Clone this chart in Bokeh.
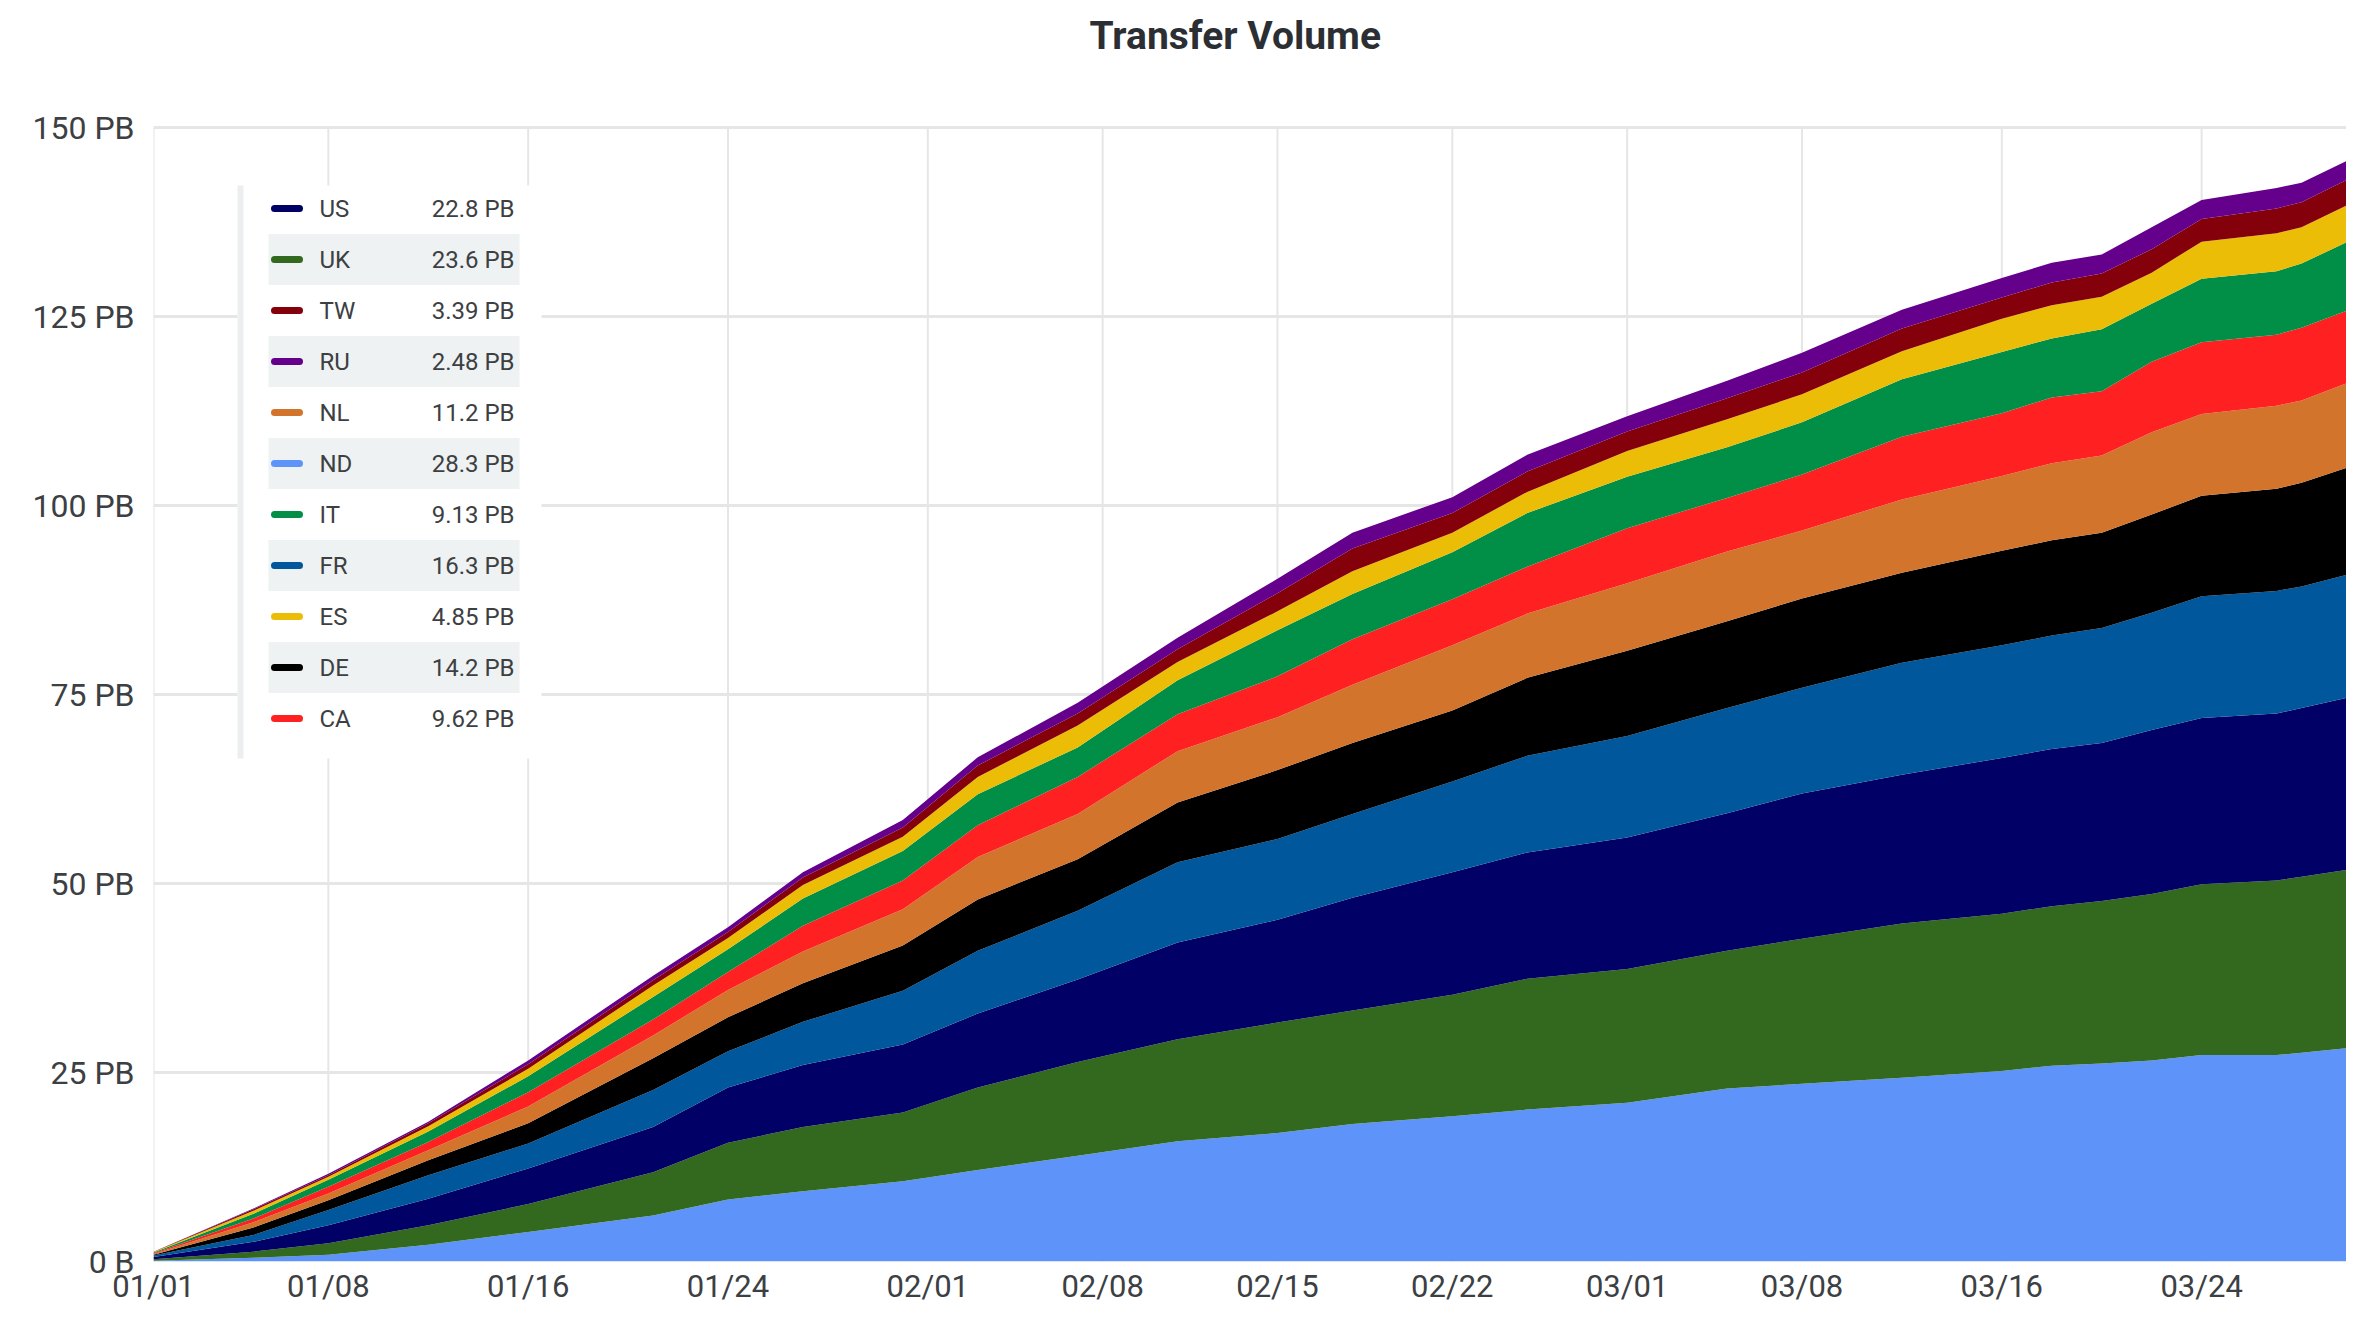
import datetime as dt
from bokeh.plotting import figure
from bokeh.models import ColumnDataSource, FixedTicker, Range1d, DatetimeTickFormatter
from bokeh.core.properties import value
from bokeh.embed import file_html
from bokeh.resources import INLINE

# ---------------- data (cumulative transfer volume per country, PB) ----------------
dates = ["2023-01-01", "2023-01-05", "2023-01-08", "2023-01-12", "2023-01-16", "2023-01-21",
         "2023-01-24", "2023-01-27", "2023-01-31", "2023-02-03", "2023-02-07", "2023-02-11",
         "2023-02-15", "2023-02-18", "2023-02-22", "2023-02-25", "2023-03-01", "2023-03-05",
         "2023-03-08", "2023-03-12", "2023-03-16", "2023-03-18", "2023-03-20", "2023-03-22",
         "2023-03-24", "2023-03-27", "2023-03-28", "2023-03-30"]

ND = [0.1, 0.5, 0.9, 2.2, 3.9, 6.1, 8.2, 9.3, 10.6, 12.1, 14.0, 15.9, 17.0, 18.2, 19.2, 20.1,
      21.0, 22.9, 23.5, 24.3, 25.2, 25.9, 26.2, 26.6, 27.3, 27.3, 27.6, 28.3]
UK = [0.2, 0.8, 1.5, 2.6, 3.7, 5.7, 7.5, 8.5, 9.1, 10.9, 12.4, 13.5, 14.6, 15.0, 16.1, 17.3,
      17.7, 18.2, 19.2, 20.4, 20.8, 21.1, 21.5, 22.0, 22.6, 23.1, 23.3, 23.6]
US = [0.3, 1.3, 2.4, 3.5, 4.7, 6.0, 7.3, 8.2, 9.0, 9.8, 10.9, 12.8, 13.6, 14.9, 16.2, 16.7,
      17.4, 18.2, 19.2, 19.7, 20.6, 20.8, 20.9, 21.7, 22.0, 22.1, 22.3, 22.8]
FR = [0.2, 0.9, 2.0, 3.1, 3.3, 4.9, 4.8, 5.7, 7.1, 8.3, 9.1, 10.6, 10.7, 11.1, 12.0, 12.8,
      13.4, 13.9, 14.0, 14.8, 14.9, 15.0, 15.2, 15.5, 16.1, 16.2, 16.1, 16.3]
DE = [0.1, 1.0, 1.3, 2.0, 2.7, 4.2, 4.5, 5.1, 6.0, 6.8, 6.8, 7.9, 9.1, 9.4, 9.4, 10.3,
      11.3, 11.5, 11.8, 11.9, 12.5, 12.6, 12.6, 13.0, 13.3, 13.5, 13.7, 14.2]
NL = [0.1, 0.7, 0.9, 1.3, 2.2, 3.0, 3.6, 4.2, 4.8, 5.6, 6.0, 6.8, 7.0, 7.7, 8.6, 8.5,
      8.9, 9.2, 9.0, 9.7, 9.9, 10.2, 10.2, 10.9, 10.8, 11.0, 10.9, 11.2]
CA = [0.1, 0.5, 0.9, 1.1, 1.9, 2.1, 2.4, 3.4, 3.8, 4.2, 4.9, 4.9, 5.4, 6.0, 6.1, 6.2,
      7.3, 7.1, 7.4, 8.3, 8.3, 8.7, 8.5, 9.3, 9.5, 9.4, 9.6, 9.62]
IT = [0.1, 0.6, 0.9, 1.4, 2.1, 3.0, 3.0, 3.6, 3.9, 4.1, 3.9, 4.5, 6.1, 6.0, 6.2, 7.1,
      6.8, 6.7, 6.9, 7.6, 8.1, 7.8, 8.2, 7.7, 8.4, 8.4, 8.5, 9.13]
ES = [0.05, 0.4, 0.4, 0.7, 1.0, 1.5, 1.5, 1.8, 1.9, 2.3, 2.9, 2.4, 2.5, 3.0, 2.6, 2.8,
      3.4, 3.7, 3.7, 3.7, 4.4, 4.4, 4.3, 4.1, 4.9, 5.0, 4.8, 4.85]
TW = [0.03, 0.2, 0.2, 0.4, 0.6, 0.7, 0.8, 1.0, 1.2, 1.5, 1.6, 1.7, 2.4, 3.0, 2.6, 2.7,
      2.6, 2.8, 2.9, 3.0, 2.8, 3.0, 3.1, 3.1, 3.0, 3.3, 3.3, 3.39]
RU = [0.02, 0.1, 0.2, 0.2, 0.5, 0.6, 0.6, 0.7, 1.0, 1.1, 1.4, 1.5, 1.9, 2.1, 2.1, 2.2,
      2.0, 2.3, 2.6, 2.5, 2.6, 2.6, 2.5, 2.9, 2.5, 2.7, 2.6, 2.48]

stack_order = ["ND", "UK", "US", "FR", "DE", "NL", "CA", "IT", "ES", "TW", "RU"]
legend_order = ["US", "UK", "TW", "RU", "NL", "ND", "IT", "FR", "ES", "DE", "CA"]
colors = {"ND": "#5e94fa", "UK": "#33691e", "US": "#000066", "FR": "#01579b", "DE": "#000000",
          "NL": "#d3742c", "CA": "#ff2121", "IT": "#018e46", "ES": "#ecbd07", "TW": "#84000a",
          "RU": "#65008c"}

y_ticks = [0, 25, 50, 75, 100, 125, 150]
y_tick_labels = ["0 B", "25 PB", "50 PB", "75 PB", "100 PB", "125 PB", "150 PB"]
x_tick_dates = ["2023-01-01", "2023-01-08", "2023-01-16", "2023-01-24", "2023-02-01", "2023-02-08",
                "2023-02-15", "2023-02-22", "2023-03-01", "2023-03-08", "2023-03-16", "2023-03-24"]
x_tick_labels = ["01/01", "01/08", "01/16", "01/24", "02/01", "02/08",
                 "02/15", "02/22", "03/01", "03/08", "03/16", "03/24"]
title_text = "Transfer Volume"

series = {"ND": ND, "UK": UK, "US": US, "FR": FR, "DE": DE, "NL": NL, "CA": CA,
          "IT": IT, "ES": ES, "TW": TW, "RU": RU}

# ---------------- figure ----------------
EPOCH = dt.datetime(1970, 1, 1)
DAY_MS = 86400000


def to_ms(s):
    return int((dt.datetime.strptime(s, "%Y-%m-%d") - EPOCH).total_seconds() * 1000)


xs = [to_ms(d) for d in dates]
x0 = xs[0]
x_end = x0 + 87.8 * DAY_MS   # visible window ends just before the last sample, as in the original

src = ColumnDataSource(dict(date=xs, **series))

W, H = 2346, 1307
FL, FRt, FT, FB = 153, W, 127, 1261  # px of: left edge, right edge, 150 PB line, 0 line
Y_MAX = 150
y_top = Y_MAX + FT * Y_MAX / (FB - FT)   # frame extends to the top of the canvas (title lives there)

p = figure(width=W, height=H, x_axis_type="datetime", output_backend="svg",
           toolbar_location=None, x_range=Range1d(x0, x_end), y_range=Range1d(0, y_top),
           min_border_left=FL, min_border_right=0, min_border_top=0,
           min_border_bottom=H - FB)
p.outline_line_color = None
p.background_fill_color = "white"

xt = [to_ms(d) for d in x_tick_dates]

# vertical grid lines stop at the 150 PB line
p.xgrid.visible = False
p.segment(x0=xt, x1=xt, y0=[0] * len(xt), y1=[Y_MAX] * len(xt),
          line_color="#e6e6e6", line_width=2, level="underlay")

p.varea_stack(stackers=stack_order, x="date", color=[colors[k] for k in stack_order], source=src)

# axes
p.yaxis.ticker = FixedTicker(ticks=y_ticks)
p.yaxis.major_label_overrides = {t: l for t, l in zip(y_ticks, y_tick_labels)}
p.xaxis.ticker = FixedTicker(ticks=xt)
p.xaxis.formatter = DatetimeTickFormatter(days="%m/%d", months="%m/%d", hours="%m/%d",
                                          years="%m/%d")
p.xaxis.major_label_overrides = {t: l for t, l in zip(xt, x_tick_labels)}
for ax in (p.xaxis, p.yaxis):
    ax.axis_line_color = None
    ax.major_tick_line_color = None
    ax.minor_tick_line_color = None
    ax.major_label_text_font = "Roboto"
    ax.major_label_text_color = "#3c4043"
p.xaxis.major_label_text_font_size = "31px"
p.yaxis.major_label_text_font_size = "32px"
p.yaxis.major_label_standoff = 13
p.xaxis.major_label_standoff = 0

p.ygrid.grid_line_color = "#e6e6e6"
p.ygrid.grid_line_width = 3


# ---------------- helpers: pixel -> data ----------------
def fx(px):
    return x0 + (px - FL) / (FRt - FL) * (x_end - x0)


def fy(py):
    return Y_MAX - (py - FT) / (FB - FT) * Y_MAX


# title
p.text(x=[fx(1089)], y=[fy(35)], text=[title_text], text_font=value("Roboto"),
       text_font_size=value("39px"), text_font_style="bold", text_color="#2b2f33",
       text_align="left", text_baseline="middle")

# ---------------- custom legend ----------------
p.quad(left=[fx(237)], right=[fx(541)], top=[fy(185)], bottom=[fy(758)],
       fill_color="white", line_color=None)
p.quad(left=[fx(237)], right=[fx(243)], top=[fy(185)], bottom=[fy(758)],
       fill_color="#eceff0", line_color=None)

row_c = [208 + 51 * i for i in range(len(legend_order))]
band_i = [i for i in range(len(legend_order)) if i % 2 == 1]
p.quad(left=[fx(268)] * len(band_i), right=[fx(519)] * len(band_i),
       top=[fy(row_c[i] - 25.5) for i in band_i], bottom=[fy(row_c[i] + 25.5) for i in band_i],
       fill_color="#eef2f2", line_color=None)

p.segment(x0=[fx(274)] * len(legend_order), x1=[fx(299)] * len(legend_order),
          y0=[fy(c) for c in row_c], y1=[fy(c) for c in row_c],
          line_color=[colors[k] for k in legend_order], line_width=7, line_cap="round")

p.text(x=[fx(319)] * len(legend_order), y=[fy(c) for c in row_c], text=legend_order,
       text_font=value("Roboto"), text_font_size=value("24px"), text_color="#3c4043",
       text_baseline="middle", text_align="left")
p.text(x=[fx(514)] * len(legend_order), y=[fy(c) for c in row_c],
       text=[f"{series[k][-1]:.3g} PB" for k in legend_order],
       text_font=value("Roboto"), text_font_size=value("24px"), text_color="#3c4043",
       text_baseline="middle", text_align="right")

open("out.html", "w").write(file_html(p, INLINE))
